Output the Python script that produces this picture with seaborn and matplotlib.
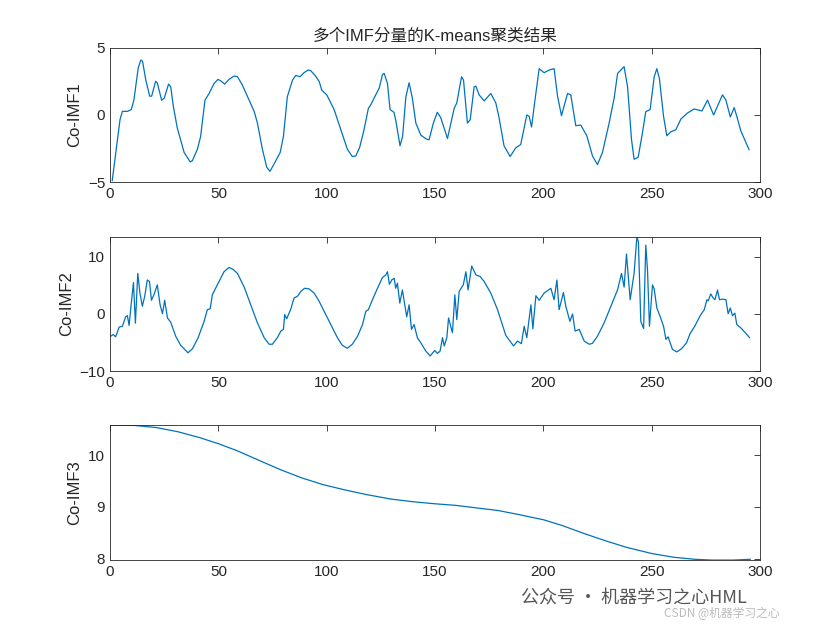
import matplotlib
matplotlib.use("Agg")
import matplotlib.pyplot as plt
import seaborn as sns

# 读取的数据 (从图中估计)
imf1_x = [1, 4.6, 5.7, 8, 9.8, 11, 13, 14.2, 15, 16.5, 18.3, 19.2, 21, 21.8, 23.8, 25, 27, 28, 29.2, 31,
          34.2, 37, 38, 40.3, 41.8, 43.8, 45.7, 48, 49.8, 51, 52.9, 54.9, 57.2, 58.8, 61, 64.2, 66.5, 68,
          70.3, 72.3, 73.8, 75.7, 78.5, 80, 81.8, 84.2, 85.7, 87.7, 89.5, 91.4, 92.6, 94.6, 96.5, 97.7,
          100, 103.4, 106.5, 109.5, 111.8, 113.4, 115.2, 117.2, 119.2, 120.3, 122.6, 124.2, 125.7, 126.5,
          128, 129.2, 131, 131.9, 133.8, 135, 136.5, 138, 139.5, 141.1, 143.4, 146, 147.2, 149.2, 151,
          152.6, 155.7, 158.8, 160, 162.2, 163.1, 164.9, 166.2, 168, 168.8, 170.3, 172.6, 175.7, 178,
          179.5, 181.8, 184.6, 187.2, 189.5, 192.3, 193.4, 194.5, 195.7, 198, 200.3, 202.6, 204.9, 206.5,
          208.3, 211.1, 212.6, 214.9, 217.2, 220, 222.6, 224.9, 227.2, 230.3, 232.6, 234.2, 237.2, 238.8,
          240.6, 241.8, 243.7, 245.7, 247.2, 249.2, 251.1, 252.3, 253.5, 255.4, 256.9, 258.8, 261.1,
          263.4, 266.5, 269.5, 273.1, 275.7, 278.5, 280.3, 282.6, 284.2, 286.2, 288, 289.2, 291.1, 294.9]
imf1_y = [-4.9, -0.35, 0.27, 0.27, 0.4, 1.1, 3.5, 4.1, 4.0, 2.6, 1.4, 1.4, 2.5, 2.4, 1.1, 1.25, 2.3, 2.1,
          0.65, -0.95, -2.8, -3.5, -3.4, -2.55, -1.6, 1.1, 1.6, 2.35, 2.65, 2.55, 2.3, 2.65, 2.9, 2.85,
          2.25, 1.1, 0.27, -0.6, -2.55, -3.9, -4.2, -3.65, -2.8, -1.6, 1.35, 2.6, 2.95, 2.85, 3.15, 3.35,
          3.3, 2.95, 2.5, 1.85, 1.5, 0.4, -1.1, -2.55, -3.1, -3.05, -2.4, -1.1, 0.5, 0.75, 1.5, 2.0, 3.0,
          3.1, 2.35, 0.4, 0.2, -0.45, -2.3, -1.6, 1.35, 2.4, 1.25, -0.6, -1.5, -1.8, -1.85, -0.6, 0.2,
          -0.2, -1.75, 0.5, 0.9, 2.85, 2.6, -0.6, -0.35, 2.1, 2.15, 1.5, 1.05, 1.6, 0.9, -0.2, -2.3,
          -3.1, -2.45, -2.2, 0, -0.1, -0.9, 0.65, 3.45, 3.15, 3.35, 3.45, 1.4, -0.05, 1.6, 1.5, -0.8,
          -0.75, -1.55, -3.05, -3.7, -2.8, -0.6, 1.25, 3.1, 3.6, 2.1, -1.8, -3.3, -3.15, -1.3, 0.25, 0.4,
          2.85, 3.45, 2.7, -0.1, -1.55, -1.25, -1.1, -0.3, 0.15, 0.45, 0.3, 1.1, 0, 0.65, 1.5, 1.1,
          -0.15, 0.55, -0.1, -1.2, -2.6]

imf2_x = [0.3, 1.5, 2.6, 4.2, 5.7, 7.2, 8, 8.8, 9.8, 10.8, 11.7, 12.8, 13.8, 14.9, 16, 17.2, 18.2, 19.1,
          20.3, 21.8, 23.1, 24.2, 25.2, 26.5, 28, 30.3, 32.6, 36, 38, 40.6, 43.4, 44.9, 46.2, 47.2, 49.5,
          52.6, 54.9, 56.8, 58.8, 61.8, 64.9, 68, 71.1, 73.4, 74.9, 77.2, 78.8, 80, 80.6, 81.5, 83.4, 84.9,
          86.5, 88, 89.8, 91.8, 94.2, 96.5, 98.8, 101.8, 104.9, 107.2, 109.5, 111.8, 114.2, 116.5, 118,
          119.2, 121.1, 123.4, 125.7, 127.2, 128, 128.9, 130, 131.1, 131.8, 132.6, 133.7, 134.9, 136,
          136.9, 138, 139.1, 140.3, 141.8, 143.4, 145.7, 147.7, 149.8, 151.1, 152.3, 153.4, 154.2, 155.4,
          156.2, 158, 159.1, 160, 161.1, 163, 164.2, 165.2, 166.9, 168.8, 170.8, 172.6, 175.7, 178.8,
          182.6, 186.2, 188, 189.8, 191.1, 192.3, 194.2, 195.1, 196.5, 198, 200.3, 203.4, 204.9, 206.2,
          207.2, 209.2, 210.3, 212.2, 213.4, 214.6, 216.5, 218.8, 221.1, 222.6, 224.9, 228, 231.1, 234.2,
          236, 237.2, 238.3, 240, 241.8, 243.1, 243.8, 244.9, 246.2, 247.2, 248, 248.9, 250.3, 251.1,
          252.3, 253.8, 255.4, 256.5, 257.5, 259.5, 261.5, 263.7, 266, 267.7, 269.8, 272.3, 274.2, 275.4,
          276, 277.2, 278.3, 279.1, 280.3, 281.2, 282.6, 284.2, 285.2, 286.2, 287.2, 288.3, 289.2, 291.1,
          293.4, 295.1]
imf2_y = [-3.9, -3.6, -4.0, -2.3, -2.15, -0.5, -0.3, -2.0, 1.9, 5.5, -1.6, 7.1, 3.65, 1.35, 3.1, 5.95,
          5.7, 2.4, 3.4, 5.1, 1.6, 0.05, 2.4, -0.7, -1.45, -3.9, -5.5, -6.8, -6.1, -4.2, -1.3, 0.75, 0.9,
          3.35, 5.1, 7.4, 8.15, 7.8, 7.1, 4.8, 1.6, -1.55, -4.15, -5.3, -5.3, -4.15, -3.0, -2.7, -0.1,
          -0.85, 0.85, 2.8, 3.1, 3.95, 4.5, 4.4, 3.65, 2.2, 0.45, -1.85, -4.15, -5.5, -6.0, -5.3, -3.9,
          -1.85, 0.45, 0.75, 2.5, 4.5, 6.4, 6.8, 7.4, 5.2, 5.95, 6.25, 4.5, 5.4, 1.9, 4.2, 1.6, -0.5, 1.6,
          -2.7, -1.85, -4.15, -5.05, -6.5, -7.35, -6.4, -6.9, -6.5, -4.15, -5.6, -4.15, -0.7, -3.3, 3.35,
          -1.0, 3.95, 5.1, 7.4, 4.2, 8.4, 6.85, 6.55, 5.7, 3.65, 0.75, -3.75, -5.6, -4.75, -5.2, -2.15,
          -4.15, 1.6, -2.6, 3.2, 2.4, 3.65, 4.5, 2.5, 5.95, 0.75, 3.75, 1.35, -1.3, 0, -3.0, -2.7, -4.75,
          -5.3, -5.15, -3.9, -1.55, 1.35, 4.25, 7.1, 4.7, 10.5, 2.5, 7.1, 13.5, 12.6, -1.3, -2.55, 12.05,
          7.7, -2.15, 5.1, 4.35, 1.05, -0.4, -2.15, -4.45, -4.0, -6.2, -6.65, -6.1, -5.05, -3.4, -2.15,
          -0.3, 0.75, 2.5, 2.3, 3.5, 2.8, 2.5, 4.2, 2.5, 2.6, 2.5, 0.05, 1.05, -0.3, 0.15, -1.85, -2.45,
          -3.4, -4.15]

imf3_x = [0, 11.4, 21.3, 31.2, 41, 49.9, 58.8, 68.6, 78.5, 88.4, 98.2, 108.1, 118, 129.8, 139.6, 149.9,
          159.4, 169.2, 179.1, 188.9, 200.2, 208.7, 218.5, 228.4, 238.3, 250.1, 260, 269.8, 277.7, 287.6,
          295.5]
imf3_y = [10.574, 10.57, 10.53, 10.45, 10.34, 10.22, 10.08, 9.9, 9.72, 9.56, 9.43, 9.33, 9.24, 9.15,
          9.10, 9.06, 9.03, 8.98, 8.93, 8.85, 8.75, 8.64, 8.49, 8.35, 8.22, 8.10, 8.03, 7.99, 7.975, 7.975,
          7.99]

series = [(imf1_x, imf1_y, "Co-IMF1"), (imf2_x, imf2_y, "Co-IMF2"), (imf3_x, imf3_y, "Co-IMF3")]
ylims = [(-5, 5), (-10, 13.5), (7.975, 10.574)]
yticks = [[-5, 0, 5], [-10, 0, 10], [8, 9, 10]]

sns.set_style("white")
plt.rcParams["font.family"] = ["Arial", "Liberation Sans", "Noto Sans CJK SC", "DejaVu Sans"]

fig = plt.figure(figsize=(8.4, 6.3), dpi=100)
posiciones = [[0.131, 0.711, 0.774, 0.213], [0.131, 0.411, 0.774, 0.213], [0.131, 0.111, 0.774, 0.214]]

for i, (xs, ys, nombre) in enumerate(series):
    ax = fig.add_axes(posiciones[i])
    sns.lineplot(x=xs, y=ys, ax=ax, color="#0072BD", linewidth=0.9, sort=False, estimator=None)
    ax.set_xlim(0, 300)
    ax.set_ylim(*ylims[i])
    ax.set_xticks([0, 50, 100, 150, 200, 250, 300])
    ax.set_yticks(yticks[i])
    ax.set_ylabel(nombre, fontsize=12, color="#262626")
    ax.tick_params(direction="in", top=True, right=True, labelsize=11, colors="#262626",
                   length=4, width=0.6)
    for s in ax.spines.values():
        s.set_visible(True)
        s.set_color("#262626")
        s.set_linewidth(0.6)
    if i == 0:
        ax.set_title("多个IMF分量的K-means聚类结果", fontsize=12, color="#262626",
                     family=["Liberation Sans", "Noto Sans CJK SC"], pad=5)

# marca de agua
fig.text(0.62, 0.05, "公众号 · 机器学习之心HML", fontsize=13, color="#555555",
         family=["Noto Sans CJK SC", "DejaVu Sans"], va="center")
fig.text(0.79, 0.026, "CSDN @机器学习之心", fontsize=8.5, color="#bbbbbb",
         family=["Noto Sans CJK SC", "DejaVu Sans"], va="center")

fig.savefig("out.png", dpi=100)
